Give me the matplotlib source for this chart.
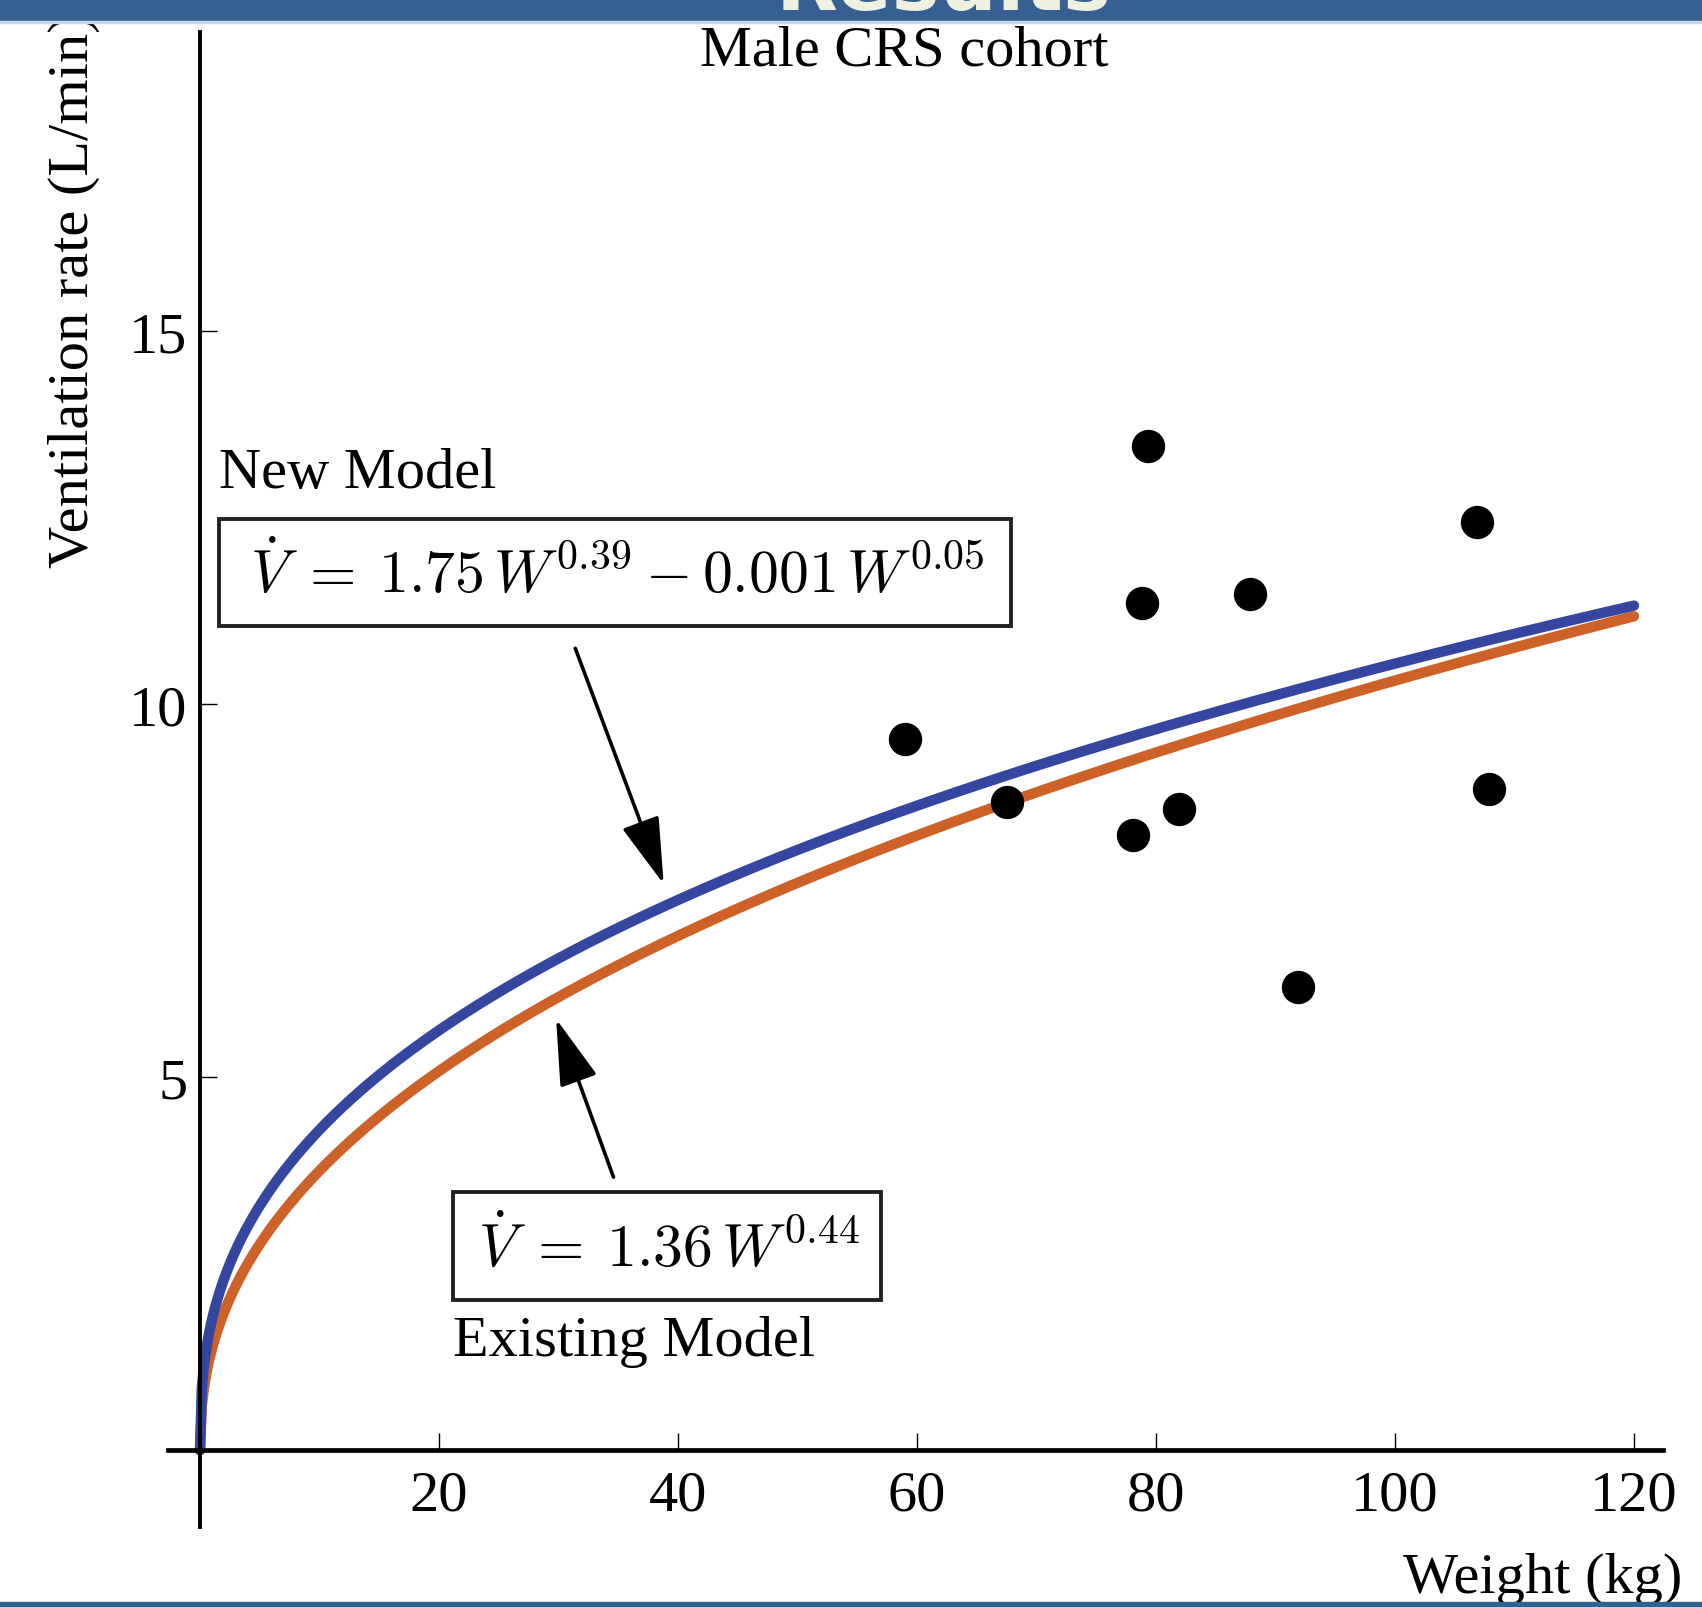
import numpy as np
import matplotlib
matplotlib.use("Agg")
import matplotlib.pyplot as plt
from matplotlib.patches import Rectangle

plt.rcParams['font.family'] = ['Liberation Serif', 'DejaVu Serif']
plt.rcParams['mathtext.fontset'] = 'cm'

# measured male cohort (weight kg, ventilation L/min)
weight = [59.0, 67.5, 78.1, 78.8, 79.3, 81.9, 87.9, 91.9, 106.9, 107.9]
vent = [9.53, 8.69, 8.25, 11.36, 13.46, 8.60, 11.47, 6.21, 12.44, 8.86]

# model coefficients as printed on the chart
new_coef = [1.75, 0.001]
new_exp = [0.39, 0.05]
old_coef = 1.36
old_exp = 0.44

xticks = [20, 40, 60, 80, 100, 120]
yticks = [5, 10, 15]

W, H = 1702, 1608
fig = plt.figure(figsize=(W / 100, H / 100), dpi=100)


def fx(px):
    return px / W


def fy(py):
    return 1 - py / H


ax = fig.add_axes([fx(168), fy(1528), fx(1663) - fx(168), fy(33) - fy(1528)])
ax.set_xlim(-2.68, 122.43)
ax.set_ylim(-1.03, 19.01)

w = np.linspace(0, 120, 800)
v_new = new_coef[0] * w ** new_exp[0] - new_coef[1] * w ** new_exp[1]
v_old = old_coef * w ** old_exp
ax.plot(w, v_old, color='#cd6127', lw=7.5, solid_capstyle='round', zorder=2)
ax.plot(w, v_new, color='#3446a0', lw=7.5, solid_capstyle='round', zorder=2)
ax.plot(weight, vent, 'o', color='black', ms=23, zorder=4)

for s in ['top', 'right']:
    ax.spines[s].set_visible(False)
for s in ['left', 'bottom']:
    ax.spines[s].set_position(('data', 0))
ax.spines['bottom'].set_linewidth(3.4)
ax.spines['left'].set_linewidth(2.8)
ax.set_xticks(xticks)
ax.set_yticks(yticks)
ax.tick_params(axis='both', direction='in', length=12, width=1.0,
               labelsize=42)
ax.tick_params(axis='x', pad=14)
ax.tick_params(axis='y', pad=9)

# arrows
arrow = dict(arrowstyle='-|>,head_length=1.3,head_width=0.38',
             color='black', lw=2.6, mutation_scale=32,
             shrinkA=0, shrinkB=0)
ax.annotate('', xy=(38.8, 7.59), xytext=(31.4, 10.75), arrowprops=arrow)
ax.annotate('', xy=(29.8, 5.78), xytext=(34.6, 3.66), arrowprops=arrow)

# equation boxes
fig.patches.append(Rectangle((fx(219), fy(627)), fx(1011) - fx(219),
                             fy(520) - fy(627), transform=fig.transFigure,
                             fill=False, lw=2.8, ec='#222222', zorder=5))
fig.patches.append(Rectangle((fx(453), fy(1301)), fx(881) - fx(453),
                             fy(1193) - fy(1301), transform=fig.transFigure,
                             fill=False, lw=2.8, ec='#222222', zorder=5))
fig.text(fx(617), fy(575),
         r'$\dot{V}\;=\:1.75\,W^{0.39}-0.001\,W^{0.05}$',
         ha='center', va='center', fontsize=43)
fig.text(fx(669), fy(1249), r'$\dot{V}\;=\:1.36\,W^{0.44}$',
         ha='center', va='center', fontsize=43)

fig.text(fx(219), fy(474), 'New Model', ha='left', va='center', fontsize=42)
fig.text(fx(453), fy(1342), 'Existing Model', ha='left', va='center',
         fontsize=42)
fig.text(fx(904), fy(51), 'Male CRS cohort', ha='center', va='center',
         fontsize=42)
fig.text(fx(1682), fy(1579), 'Weight (kg)', ha='right', va='center',
         fontsize=42)
fig.text(fx(74), fy(291), 'Ventilation rate (L/min)', ha='center',
         va='center', rotation=90, fontsize=42)

# slide header and footer bars
fig.patches.append(Rectangle((0, fy(22)), 1, fy(0) - fy(22),
                             transform=fig.transFigure, color='#376092',
                             zorder=10))
fig.patches.append(Rectangle((0, fy(24)), 1, fy(22) - fy(24),
                             transform=fig.transFigure, color='#c6d9f1',
                             zorder=10))
fig.text(fx(944), fy(10), 'Results', ha='center', va='baseline',
         fontsize=58, fontweight='bold', color='#eef0e0',
         family='DejaVu Sans', zorder=11)
fig.patches.append(Rectangle((0, 0), 1, fy(1603),
                             transform=fig.transFigure, color='#376092',
                             zorder=10))

fig.savefig('out.png', dpi=100)
